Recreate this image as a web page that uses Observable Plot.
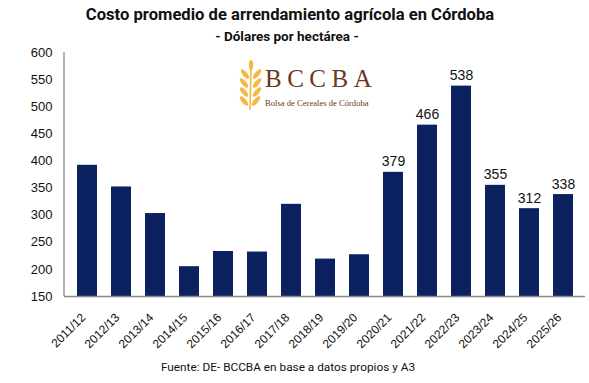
<!DOCTYPE html>
<html>
<head>
<meta charset="utf-8">
<script src="https://cdn.jsdelivr.net/npm/d3@7"></script>
<script src="https://cdn.jsdelivr.net/npm/@observablehq/plot@0.6"></script>
<style>
  html, body { margin: 0; padding: 0; background: #fff; }
  #wrap { position: relative; width: 589px; height: 383px; overflow: hidden; }
  #head { height: 44px; position: relative; }
  #title { position: absolute; top: 5px; left: 0; width: 580px; text-align: center;
    font-family: Roboto, "Noto Sans", sans-serif; font-weight: 700; font-size: 16.6px; color: #111; }
  #subtitle { position: absolute; top: 28px; left: 0; width: 574px; text-align: center;
    font-family: Roboto, "Noto Sans", sans-serif; font-weight: 700; font-size: 13.5px; color: #111; }
  #caption { position: absolute; top: 360px; left: 0; text-align: center; width: 576px;
    font-family: Roboto, "Noto Sans", sans-serif; font-size: 11.8px; color: #111; }
  #logo { position: absolute; left: 238px; top: 60px; width: 140px; height: 52px; }
  #logo .big { position: absolute; left: 27px; top: 5px; font-family: "Liberation Serif", "DejaVu Serif", serif;
    font-size: 25px; letter-spacing: 5.5px; color: #6b3822; }
  #logo .small { position: absolute; left: 27px; top: 38px; font-family: "Liberation Serif", "DejaVu Serif", serif;
    font-size: 8.6px; color: #6b3822; white-space: nowrap; }
  #logo svg { position: absolute; left: 0; top: 0; }
</style>
</head>
<body>
<div id="wrap">
  <div id="head">
    <div id="title">Costo promedio de arrendamiento agrícola en Córdoba</div>
    <div id="subtitle">- Dólares por hectárea -</div>
  </div>
  <div id="chart"></div>
  <div id="caption">Fuente: DE- BCCBA en base a datos propios y A3</div>
  <div id="logo">
    <svg width="26" height="52" viewBox="0 0 26 52">
      <g fill="#f4b942">
        <path d="M12 50 L13 6" stroke="#f4b942" stroke-width="1.6" fill="none"/>
        <ellipse cx="13" cy="5" rx="2.2" ry="5"/>
        <ellipse cx="7" cy="14" rx="2.3" ry="6" transform="rotate(-40 7 14)"/>
        <ellipse cx="19" cy="14" rx="2.3" ry="6" transform="rotate(40 19 14)"/>
        <ellipse cx="6" cy="23" rx="2.3" ry="6" transform="rotate(-40 6 23)"/>
        <ellipse cx="19" cy="23" rx="2.3" ry="6" transform="rotate(40 19 23)"/>
        <ellipse cx="6" cy="32" rx="2.3" ry="6" transform="rotate(-40 6 32)"/>
        <ellipse cx="19" cy="32" rx="2.3" ry="6" transform="rotate(40 19 32)"/>
        <ellipse cx="6" cy="41" rx="2.3" ry="6" transform="rotate(-40 6 41)"/>
        <ellipse cx="18" cy="41" rx="2.3" ry="6" transform="rotate(40 18 41)"/>
      </g>
    </svg>
    <div class="big">BCCBA</div>
    <div class="small">Bolsa de Cereales de Córdoba</div>
  </div>
</div>
<script>
const seasons = ["2011/12","2012/13","2013/14","2014/15","2015/16","2016/17","2017/18","2018/19","2019/20","2020/21","2021/22","2022/23","2023/24","2024/25","2025/26"];
const values = [392, 352, 303, 205, 233, 232, 320, 219, 227, 379, 466, 538, 355, 312, 338];
const labeled = [false, false, false, false, false, false, false, false, false, true, true, true, true, true, true];
const yTicks = [150, 200, 250, 300, 350, 400, 450, 500, 550, 600];

const data = seasons.map((s, i) => ({season: s, value: values[i], show: labeled[i]}));

const plot = Plot.plot({
  width: 589,
  height: 314,
  marginTop: 8,
  marginBottom: 62,
  marginLeft: 64,
  marginRight: 4,
  style: {fontFamily: "'Liberation Sans', Arial, sans-serif", fontSize: "13px", color: "#111", background: "transparent", overflow: "visible"},
  x: {domain: seasons, paddingInner: 0.42, paddingOuter: 0.21, label: null},
  y: {domain: [150, 600], label: null},
  marks: [
    Plot.barY(data, {x: "season", y1: 150, y2: "value", fill: "#0b2160"}),
    Plot.text(data.filter(d => d.show), {x: "season", y: "value", text: d => String(d.value),
      lineAnchor: "bottom", dy: -6, fontSize: 14, fill: "#111"}),
    Plot.ruleY([150], {stroke: "#8a8a8a", strokeWidth: 1.3}),
    Plot.axisY({ticks: yTicks, tickSize: 0, tickPadding: 12, fontSize: 13, label: null}),
    Plot.axisX({tickSize: 0, tickRotate: -45, tickPadding: 19, dx: -4, fontSize: 12, label: null})
  ]
});

const ys = plot.scale("y");
const xs = plot.scale("x");
d3.select(plot).append("line")
  .attr("x1", xs.range[0]).attr("x2", xs.range[0])
  .attr("y1", ys.apply(600)).attr("y2", ys.apply(150))
  .attr("stroke", "#8a8a8a").attr("stroke-width", 1.3);

document.getElementById("chart").appendChild(plot);
</script>
</body>
</html>
